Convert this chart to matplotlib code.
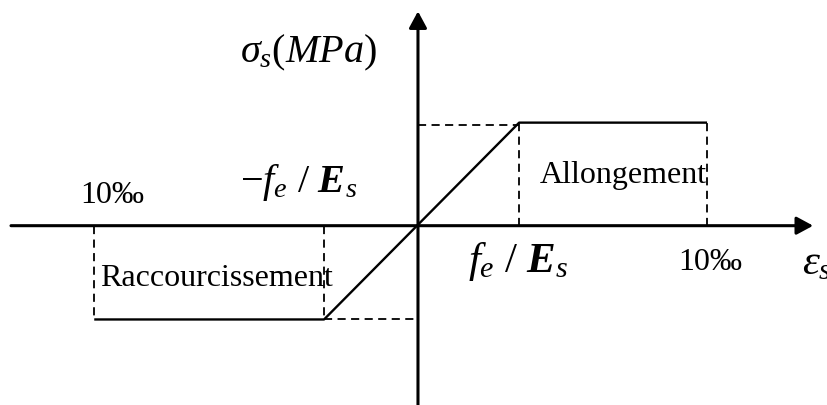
import matplotlib
matplotlib.use("Agg")
import matplotlib.pyplot as plt

# ---------------------------------------------------------------------------
# Steel stress-strain diagram (idealised elastic / perfectly plastic law)
# ---------------------------------------------------------------------------

plt.rcParams["font.family"] = ["Liberation Serif", "DejaVu Serif"]
plt.rcParams["mathtext.fontset"] = "custom"
plt.rcParams["mathtext.rm"] = "Liberation Serif"
plt.rcParams["mathtext.it"] = "Liberation Serif:italic"
plt.rcParams["mathtext.bf"] = "Liberation Serif:bold"
plt.rcParams["mathtext.bfit"] = "Liberation Serif:bold:italic"

# strain (per mille) and stress (relative to fe) of the diagram corners
eps_curve = [-11.2, -3.25, 3.5, 10.0]
sig_curve = [-0.91, -0.91, 1.0, 1.0]

EPS_YIELD_T = 3.5     # fe/Es on the tension side
EPS_YIELD_C = -3.25   # -fe/Es on the compression side
EPS_ULT_T = 10.0      # 10 per mille, tension
EPS_ULT_C = -11.2     # 10 per mille, compression
SIG_T = 1.0
SIG_C = -0.91

XLIM = (-14.46, 14.15)
YLIM = (-1.74, 2.19)

fig = plt.figure(figsize=(8.27, 4.05), dpi=100)
ax = fig.add_axes([0, 0, 1, 1])
ax.set_xlim(*XLIM)
ax.set_ylim(*YLIM)
ax.axis("off")

# axes with arrows
arrow_kw = dict(arrowstyle="-|>,head_length=0.5,head_width=0.27",
                lw=2.2, color="black", mutation_scale=20,
                shrinkA=0, shrinkB=0)
ax.annotate("", xy=(13.67, 0), xytext=(-14.08, 0), arrowprops=arrow_kw)
ax.annotate("", xy=(0, 2.08), xytext=(0, YLIM[0] - 0.1), arrowprops=arrow_kw)

# constitutive law
ax.plot(eps_curve, sig_curve, color="black", lw=1.7, solid_capstyle="butt")

# dashed construction lines
dash_kw = dict(color="black", lw=1.3, dashes=(4.5, 3.0))
for e, s in [(EPS_YIELD_T, SIG_T), (EPS_ULT_T, SIG_T),
             (EPS_YIELD_C, SIG_C), (EPS_ULT_C, SIG_C)]:
    ax.plot([e, e], [0, s], **dash_kw)
ax.plot([0, EPS_YIELD_T], [SIG_T * 0.98, SIG_T * 0.98], **dash_kw)
ax.plot([EPS_YIELD_C, 0], [SIG_C, SIG_C], **dash_kw)

# labels
FS = 23
txt = dict(ha="left", va="baseline", color="black")
ax.text(-6.16, 1.58, r"$\sigma_s(MPa)$", fontsize=29, **txt)
ax.text(-6.16, 0.33, r"$-f_e\ /\ \mathbfit{E}_s$", fontsize=29, **txt)
ax.text(-11.70, 0.22, "10‰", fontsize=FS, **txt)
ax.text(4.22, 0.417, "Allongement", fontsize=FS, **txt)
ax.text(-11.0, -0.583, "Raccourcissement", fontsize=FS, **txt)
ax.text(1.73, -0.447, r"$f_e\ /\ \mathbfit{E}_s$", fontsize=31, **txt)
ax.text(9.0, -0.427, "10‰", fontsize=FS, **txt)
ax.text(13.29, -0.476, r"$\epsilon_s$", fontsize=31, **txt)

fig.savefig("out.png", dpi=100)
